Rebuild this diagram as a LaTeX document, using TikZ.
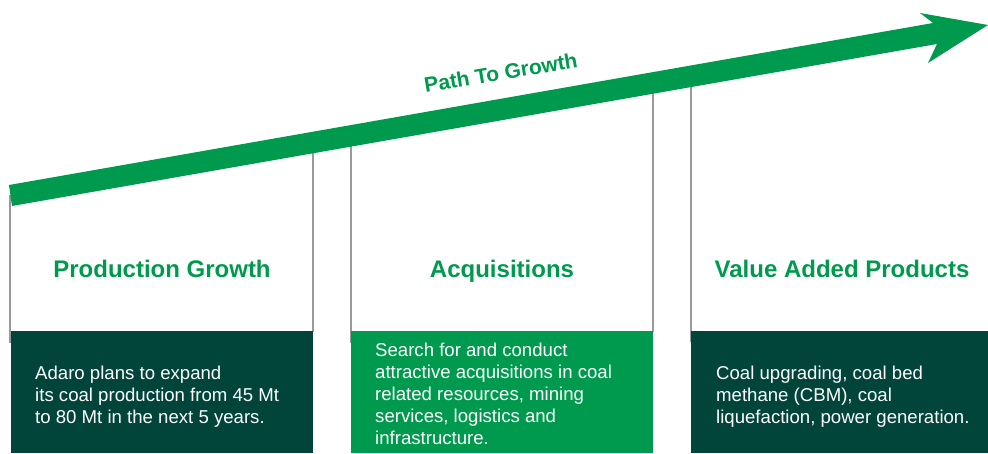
\documentclass[tikz,border=0pt]{standalone}
\usepackage{fontspec}
\setmainfont{Liberation Sans}
\definecolor{pgreen}{HTML}{009A4E}
\definecolor{pdark}{HTML}{01443A}
\definecolor{pgray}{HTML}{9A9A9A}
\begin{document}
\begin{tikzpicture}[x=1pt,y=-1pt,
  darkbox/.style={fill=pdark,draw=none,inner sep=0pt,anchor=north west,minimum height=122pt},
  lightbox/.style={fill=pgreen,draw=none,inner sep=0pt,anchor=north west,minimum height=122pt},
  titletext/.style={text=pgreen,font=\fontsize{24}{28}\selectfont\bfseries,anchor=base,inner sep=0pt},
  bodytext/.style={text=white,font=\fontsize{18.6}{22}\selectfont,align=left,anchor=north west,inner sep=0pt},
  divider/.style={draw=pgray,line width=1.1pt}]
\useasboundingbox (0,0) rectangle (988,453);
% divider lines
\draw[divider] (10,195) -- (10,343);
\draw[divider] (313,150) -- (313,332);
\draw[divider] (351,143) -- (351,343);
\draw[divider] (653,90) -- (653,332);
\draw[divider] (691,84) -- (691,342);
% boxes
\node[darkbox,minimum width=302pt] (b1) at (11,331) {};
\node[lightbox,minimum width=302pt] (b2) at (351,331) {};
\node[darkbox,minimum width=297pt] (b3) at (691,331) {};
% arrow
\fill[pgreen] (9,185) -- (933,23) -- (920,13) -- (988,25) -- (928,63) -- (937,44) -- (12,206) -- cycle;
\node[text=pgreen,font=\fontsize{21}{24}\selectfont\bfseries,anchor=base,inner sep=0pt,rotate=9.5] (path) at (502,80) {Path To Growth};
% titles
\node[titletext] (t1) at (162,277) {Production Growth};
\node[titletext] (t2) at (502,277) {Acquisitions};
\node[titletext] (t3) at (842,277) {Value Added Products};
% body texts
\node[bodytext] (x1) at (35,366) {Adaro plans to expand\\its coal production from 45 Mt\\to 80 Mt in the next 5 years.};
\node[bodytext] (x2) at (375,343) {Search for and conduct\\attractive acquisitions in coal\\related resources, mining\\services, logistics and\\infrastructure.};
\node[bodytext] (x3) at (716,366) {Coal upgrading, coal bed\\methane (CBM), coal\\liquefaction, power generation.};
\end{tikzpicture}
\end{document}
